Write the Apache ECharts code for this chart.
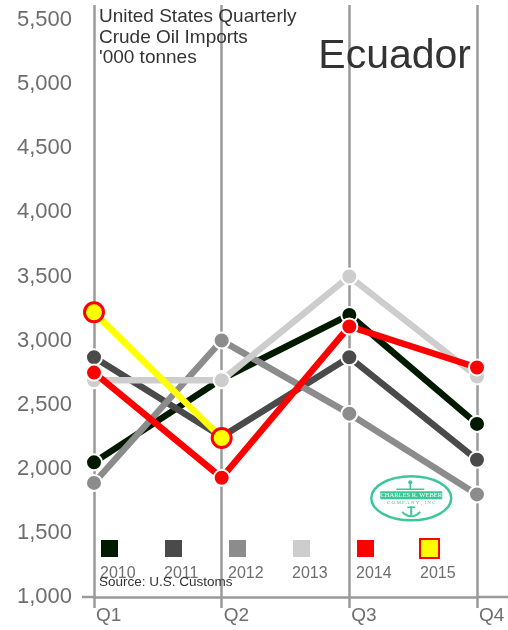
<!DOCTYPE html>
<html>
<head>
<meta charset="utf-8">
<script src="https://cdn.jsdelivr.net/npm/echarts@6/dist/echarts.min.js"></script>
<style>
  html, body { margin: 0; padding: 0; background: #fff; }
  #chart { width: 508px; height: 630px; }
</style>
</head>
<body>
<div id="chart"></div>
<script>
const quarters = ["Q1", "Q2", "Q3", "Q4"];
const years = ["2010", "2011", "2012", "2013", "2014", "2015"];
const imports2010 = [2050, 2700, 3200, 2350];
const imports2011 = [2870, 2250, 2870, 2070];
const imports2012 = [1890, 3000, 2430, 1800];
const imports2013 = [2690, 2690, 3500, 2720];
const imports2014 = [2750, 1930, 3110, 2790];
const imports2015 = [3220, 2240, null, null];
const yMin = 1000;
const yMax = 5500;
const yStep = 500;

const seriesData = [imports2010, imports2011, imports2012, imports2013, imports2014, imports2015];
const colors = ["#001a00", "#4a4a4a", "#8c8c8c", "#cdcdcd", "#ff0000", "#ffff00"];
const font = "'Liberation Sans', Arial, sans-serif";
const axisGray = "#9a9a9a";
const logoGreen = "#3cc896";

const chart = echarts.init(document.getElementById("chart"));

const series = years.map((y, i) => {
  const is2015 = y === "2015";
  return {
    name: y,
    type: "line",
    data: seriesData[i],
    symbol: "circle",
    symbolSize: is2015 ? 19 : 16,
    showAllSymbol: true,
    lineStyle: { color: colors[i], width: 6.5 },
    itemStyle: {
      color: colors[i],
      borderColor: is2015 ? "#ff0000" : "#ffffff",
      borderWidth: is2015 ? 3 : 2
    },
    emphasis: { disabled: true },
    z: 3 + i,
    animation: false
  };
});

// legend: icon row + year labels underneath
const legends = [];
years.forEach((y, i) => {
  legends.push({
    data: [y],
    left: 99 + i * 64,
    top: 538,
    itemWidth: 19,
    itemHeight: 19,
    icon: "rect",
    formatter: () => "",
    padding: 0,
    selectedMode: false
  });
  legends.push({
    data: [y],
    left: 94 + i * 64,
    top: 566,
    itemWidth: 0,
    itemHeight: 0,
    icon: "rect",
    padding: 0,
    selectedMode: false,
    textStyle: { color: "#6e6e6e", fontSize: 16, fontFamily: font }
  });
});

const option = {
  backgroundColor: "#fff",
  textStyle: { fontFamily: font },
  title: [
    {
      text: "United States Quarterly\nCrude Oil Imports\n'000 tonnes",
      left: 99,
      top: 7,
      padding: 0,
      textStyle: { fontSize: 19, lineHeight: 20.5, fontWeight: "normal", color: "#333", fontFamily: font }
    },
    {
      text: "Ecuador",
      right: 37,
      top: 36,
      padding: 0,
      textStyle: { fontSize: 41, fontWeight: "normal", color: "#333", fontFamily: font }
    },
    {
      text: "Source: U.S. Customs",
      left: 99,
      top: 575,
      padding: 0,
      textStyle: { fontSize: 13.5, fontWeight: "normal", color: "#333", fontFamily: font }
    }
  ],
  legend: legends,
  grid: { left: 94, right: 31, top: 20, bottom: 33, containLabel: false },
  xAxis: [
    {
      type: "category",
      data: quarters,
      boundaryGap: false,
      axisLine: { show: true, lineStyle: { color: axisGray, width: 2.5 } },
      axisTick: { show: true, length: 11, alignWithLabel: true, lineStyle: { color: axisGray, width: 2.5 } },
      axisLabel: { align: "left", margin: 9, padding: [0, 0, 0, 2], color: "#6e6e6e", fontSize: 19, fontFamily: font },
      splitLine: { show: true, lineStyle: { color: axisGray, width: 2.5 } }
    },
    {
      type: "category",
      position: "top",
      data: quarters,
      boundaryGap: false,
      axisLine: { show: false },
      axisTick: { show: true, length: 15, alignWithLabel: true, lineStyle: { color: axisGray, width: 2.5 } },
      axisLabel: { show: false },
      splitLine: { show: false }
    }
  ],
  yAxis: {
    type: "value",
    min: yMin,
    max: yMax,
    interval: yStep,
    axisLine: { show: false },
    axisTick: { show: false },
    splitLine: { show: false },
    axisLabel: {
      margin: 22,
      color: "#6e6e6e",
      fontSize: 22,
      fontFamily: font,
      formatter: (v) => v.toLocaleString("en-US")
    }
  },
  series: series,
  graphic: [
    // baseline runs a little past the first and last quarter
    { type: "line", shape: { x1: 82, y1: 597, x2: 94, y2: 597 }, style: { stroke: axisGray, lineWidth: 2.5 }, silent: true },
    { type: "line", shape: { x1: 477, y1: 597, x2: 508, y2: 597 }, style: { stroke: axisGray, lineWidth: 2.5 }, silent: true },
    // Charles R. Weber logo
    {
      type: "group",
      left: 370,
      top: 475,
      silent: true,
      children: [
        { type: "ellipse", shape: { cx: 41, cy: 23, rx: 40, ry: 22 }, style: { fill: "#fff", stroke: logoGreen, lineWidth: 2.5 } },
        { type: "line", shape: { x1: 26, y1: 14, x2: 54, y2: 14 }, style: { stroke: logoGreen, lineWidth: 1.5 } },
        { type: "line", shape: { x1: 40, y1: 8, x2: 40, y2: 14 }, style: { stroke: logoGreen, lineWidth: 1.5 } },
        { type: "circle", shape: { cx: 40, cy: 7, r: 2 }, style: { fill: logoGreen } },
        { type: "rect", shape: { x: 10, y: 16, width: 62, height: 8 }, style: { fill: logoGreen } },
        { type: "text", x: 41, y: 20, style: { text: "CHARLES R. WEBER", fill: "#fff", fontSize: 6.5, fontFamily: "'Liberation Serif', serif", align: "center", verticalAlign: "middle" } },
        { type: "text", x: 41, y: 27.5, style: { text: "C O M P A N Y ,  I N C", fill: logoGreen, fontSize: 5, fontFamily: "'Liberation Serif', serif", align: "center", verticalAlign: "middle" } },
        { type: "line", shape: { x1: 41, y1: 31, x2: 41, y2: 40 }, style: { stroke: logoGreen, lineWidth: 2 } },
        { type: "arc", shape: { cx: 41, cy: 30, r: 11, startAngle: Math.PI * 0.2, endAngle: Math.PI * 0.8 }, style: { stroke: logoGreen, lineWidth: 2, fill: null } },
        { type: "line", shape: { x1: 37, y1: 32, x2: 45, y2: 32 }, style: { stroke: logoGreen, lineWidth: 1.5 } }
      ]
    }
  ]
};

chart.setOption(option);
window.addEventListener("resize", () => chart.resize());
</script>
</body>
</html>
